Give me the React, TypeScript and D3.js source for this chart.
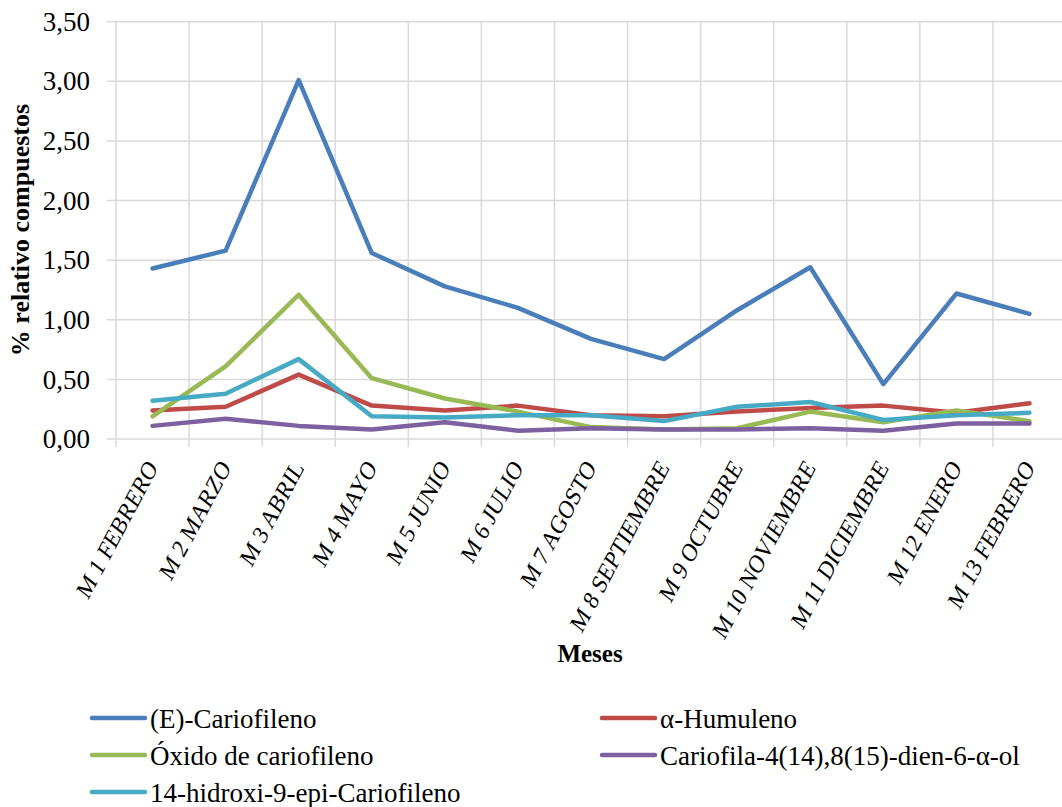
import React from "react";
import * as d3 from "d3";

const categories = [
  "M 1 FEBRERO", "M 2 MARZO", "M 3 ABRIL", "M 4 MAYO", "M 5 JUNIO", "M 6 JULIO",
  "M 7 AGOSTO", "M 8 SEPTIEMBRE", "M 9 OCTUBRE", "M 10 NOVIEMBRE", "M 11 DICIEMBRE",
  "M 12 ENERO", "M 13 FEBRERO",
];

const cariofileno = [1.43, 1.58, 3.01, 1.56, 1.28, 1.10, 0.84, 0.67, 1.08, 1.44, 0.46, 1.22, 1.05];
const humuleno = [0.24, 0.27, 0.54, 0.28, 0.24, 0.28, 0.20, 0.19, 0.23, 0.26, 0.28, 0.22, 0.30];
const oxido = [0.19, 0.61, 1.21, 0.51, 0.34, 0.23, 0.10, 0.08, 0.09, 0.23, 0.14, 0.24, 0.15];
const cariofila = [0.11, 0.17, 0.11, 0.08, 0.14, 0.07, 0.09, 0.08, 0.08, 0.09, 0.07, 0.13, 0.13];
const hidroxi = [0.32, 0.38, 0.67, 0.19, 0.18, 0.20, 0.20, 0.15, 0.27, 0.31, 0.16, 0.20, 0.22];

const yTicks = [0, 0.5, 1, 1.5, 2, 2.5, 3, 3.5];

const series = [
  { name: "(E)-Cariofileno", values: cariofileno, color: "#4A7EBB" },
  { name: "α-Humuleno", values: humuleno, color: "#BE4B48" },
  { name: "Óxido de cariofileno", values: oxido, color: "#98B954" },
  { name: "Cariofila-4(14),8(15)-dien-6-α-ol", values: cariofila, color: "#7D60A0" },
  { name: "14-hidroxi-9-epi-Cariofileno", values: hidroxi, color: "#46AAC5" },
];

const W = 1062;
const H = 807;
const left = 116;
const right = 1066;
const top = 21.7;
const bottom = 439;
const FONT = "'Liberation Serif', 'Times New Roman', serif";

export default function App() {
  const x = d3.scaleBand<string>().domain(categories).range([left, right]).padding(0);
  const y = d3.scaleLinear().domain([0, 3.5]).range([bottom, top]);
  const line = d3
    .line<number>()
    .x((_, i) => (x(categories[i]) as number) + x.bandwidth() / 2)
    .y((d) => y(d));
  const fmt = (v: number) => v.toFixed(2).replace(".", ",");
  const bounds = categories.map((c) => x(c) as number).concat([right]);

  return (
    <svg width={W} height={H} style={{ position: "absolute", left: 0, top: 0, background: "#fff" }}>
      <rect width={W} height={H} fill="#fff" />
      {yTicks.map((t) => (
        <line key={"h" + t} x1={left - 9} x2={right} y1={y(t)} y2={y(t)} stroke="#D9D9D9" strokeWidth={1.5} />
      ))}
      {bounds.map((b, i) => (
        <line key={"v" + i} x1={b} x2={b} y1={top} y2={bottom + 8} stroke="#D9D9D9" strokeWidth={1.5} />
      ))}
      {yTicks.map((t) => (
        <text key={"yt" + t} x={90} y={y(t)} dy="0.34em" textAnchor="end" fontFamily={FONT} fontSize={27} fill="#000">
          {fmt(t)}
        </text>
      ))}
      <text
        transform={`translate(29,230) rotate(-90)`}
        textAnchor="middle"
        fontFamily={FONT}
        fontWeight="bold"
        fontSize={26}
        fill="#000"
      >
        % relativo compuestos
      </text>
      {categories.map((c) => {
        const cx = (x(c) as number) + x.bandwidth() / 2 + 6;
        return (
          <text
            key={c}
            transform={`translate(${cx},468) rotate(-62) skewX(-10)`}
            textAnchor="end"
            fontFamily={FONT}
            fontSize={23.5}
            fill="#000"
          >
            {c}
          </text>
        );
      })}
      <text x={590} y={662} textAnchor="middle" fontFamily={FONT} fontWeight="bold" fontSize={25} fill="#000">
        Meses
      </text>
      {series.map((s) => (
        <path
          key={s.name}
          d={line(s.values) as string}
          fill="none"
          stroke={s.color}
          strokeWidth={4.5}
          strokeLinejoin="round"
          strokeLinecap="round"
        />
      ))}
      {series.map((s, i) => {
        const col = i % 2;
        const row = Math.floor(i / 2);
        const lx = col === 0 ? 92 : 602;
        const ly = 718 + row * 37;
        return (
          <g key={"lg" + s.name}>
            <line x1={lx} x2={lx + 53} y1={ly} y2={ly} stroke={s.color} strokeWidth={4.5} strokeLinecap="round" />
            <text x={lx + 58} y={ly + 10} fontFamily={FONT} fontSize={27} fill="#000">
              {s.name}
            </text>
          </g>
        );
      })}
    </svg>
  );
}
